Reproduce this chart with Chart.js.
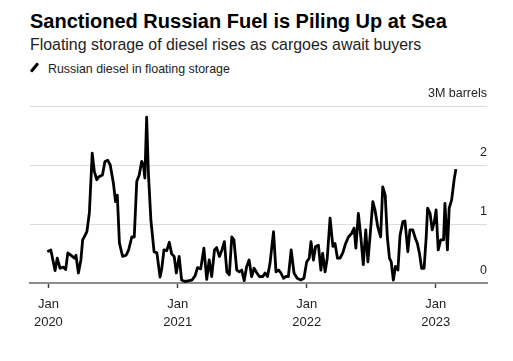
<!DOCTYPE html>
<html>
<head>
<meta charset="utf-8">
<script src="https://cdn.jsdelivr.net/npm/chart.js@4/dist/chart.umd.min.js"></script>
<style>
  html, body { margin: 0; padding: 0; background: #fff; }
  body { width: 513px; height: 361px; position: relative; overflow: hidden; font-family: "Liberation Sans", Arial, sans-serif; }
  .title { position: absolute; left: 30px; top: 10.5px; font-size: 20px; line-height: 20px; font-weight: bold; color: #000; white-space: nowrap; }
  .subtitle { position: absolute; left: 30px; top: 36.5px; font-size: 15.9px; line-height: 15.9px; color: #222; white-space: nowrap; }
  .legend { position: absolute; left: 48px; top: 62.8px; font-size: 12.4px; line-height: 12.4px; color: #222; white-space: nowrap; }
  .legend-mark { position: absolute; left: 33px; top: 62px; width: 3px; height: 11px; background: #000; transform: rotate(40deg); border-radius: 1px; }
  #chart { position: absolute; left: 0; top: 0; }
</style>
</head>
<body>
<div class="title">Sanctioned Russian Fuel is Piling Up at Sea</div>
<div class="subtitle">Floating storage of diesel rises as cargoes await buyers</div>
<span class="legend-mark"></span>
<div class="legend">Russian diesel in floating storage</div>
<canvas id="chart" width="513" height="361"></canvas>

<script>
// ---- data: days since 2020-01-01, million barrels ----
const SERIES_LABEL = 'Russian diesel in floating storage';
const BASE_YEAR = 2020;
const dayOffsets = [-3,7,13,19,25,33,42,49,55,66,74,78,85,92,97,103,109,116,124,130,137,143,153,160,168,175,184,190,195,201,210,220,227,236,243,250,257,264,269,273,278,283,290,299,307,316,321,327,335,342,349,356,362,370,377,384,392,399,406,415,422,431,440,448,455,462,470,476,484,491,498,505,512,519,525,533,540,547,554,561,568,575,582,590,597,607,613,620,627,637,644,651,658,665,672,679,687,695,704,714,723,731,738,743,750,756,764,771,776,783,789,797,805,811,818,825,833,841,849,858,865,870,877,884,891,898,904,910,918,924,932,940,946,953,959,965,970,976,982,989,995,1003,1009,1017,1023,1031,1037,1044,1050,1056,1063,1069,1073,1080,1086,1092,1097,1103,1110,1118,1122,1129,1134,1141,1148,1153];
const barrels = [0.53,0.56,0.38,0.21,0.42,0.25,0.27,0.23,0.51,0.46,0.42,0.47,0.17,0.39,0.73,0.80,0.87,1.19,2.20,1.89,1.75,1.80,1.83,2.06,2.08,2.00,1.69,1.38,1.49,0.68,0.45,0.47,0.56,0.78,0.78,1.72,1.83,2.06,2.00,1.78,2.81,1.86,1.07,0.53,0.51,0.10,0.25,0.56,0.55,0.69,0.49,0.45,0.17,0.45,0.05,0.03,0.03,0.04,0.05,0.12,0.26,0.24,0.59,0.06,0.39,0.11,0.56,0.60,0.45,0.56,0.70,0.19,0.14,0.78,0.73,0.22,0.19,0.22,0.04,0.28,0.39,0.11,0.25,0.17,0.11,0.11,0.17,0.11,0.33,0.87,0.19,0.22,0.17,0.08,0.11,0.11,0.56,0.17,0.08,0.05,0.08,0.36,0.42,0.70,0.39,0.62,0.64,0.22,0.50,0.19,0.42,1.10,0.62,0.67,0.42,0.42,0.51,0.67,0.78,0.84,0.93,0.59,1.18,0.78,0.31,0.90,0.36,0.78,1.38,1.24,0.95,0.78,1.63,1.49,0.78,0.42,0.36,0.05,0.28,0.22,0.81,1.04,1.05,0.53,0.90,0.90,0.78,0.67,0.50,0.25,0.25,0.78,1.27,1.18,0.90,1.04,1.24,0.56,0.73,0.73,1.35,0.56,1.27,1.41,1.75,1.93];
const tickYears = [2020, 2021, 2022, 2023];
const yTicks = [0, 1, 2, 3];

// x range (days), a bit of room on both sides like the original
const X_MIN = -52;
const X_MAX = 1241;

const DAY = 86400000;
const dayOf = (y) => Math.round((Date.UTC(y, 0, 1) - Date.UTC(BASE_YEAR, 0, 1)) / DAY);
const yearTickDays = tickYears.map(dayOf);

const points = dayOffsets.map((d, i) => ({ x: d, y: barrels[i] }));

new Chart(document.getElementById('chart'), {
  type: 'line',
  data: {
    datasets: [{
      label: SERIES_LABEL,
      data: points,
      borderColor: '#000',
      borderWidth: 2.8,
      borderJoinStyle: 'round',
      pointRadius: 0,
      tension: 0,
      fill: false
    }]
  },
  options: {
    responsive: false,
    animation: false,
    events: [],
    // x axis height = tick 5 + 2*padding + 2 lines of 18px
    layout: { padding: { left: 30, right: 26, top: 106, bottom: 23 } },
    plugins: { legend: { display: false }, tooltip: { enabled: false } },
    scales: {
      x: {
        type: 'linear',
        min: X_MIN,
        max: X_MAX,
        afterBuildTicks: (axis) => { axis.ticks = yearTickDays.map(v => ({ value: v })); },
        grid: { drawOnChartArea: false, drawTicks: true, tickLength: 5, tickColor: '#444', tickWidth: 1.5 },
        border: { display: true, color: '#8c8c8c', width: 2 },
        ticks: {
          padding: 7,
          maxRotation: 0,
          autoSkip: false,
          color: '#222',
          font: { family: 'Liberation Sans', size: 13, lineHeight: '18px' },
          callback: (v) => {
            const i = yearTickDays.indexOf(v);
            return i < 0 ? '' : ['Jan', String(tickYears[i])];
          }
        }
      },
      y: {
        position: 'right',
        min: 0,
        max: 3,
        afterBuildTicks: (axis) => { axis.ticks = yTicks.map(v => ({ value: v })); },
        grid: { color: '#dcdcdc', lineWidth: 1, drawTicks: false },
        border: { display: false },
        ticks: {
          mirror: true,
          padding: 0,
          labelOffset: -12.5,
          color: '#222',
          font: { family: 'Liberation Sans', size: 12.5 },
          callback: (v) => v === 3 ? '3M barrels' : String(v)
        }
      }
    }
  }
});
</script>
</body>
</html>
